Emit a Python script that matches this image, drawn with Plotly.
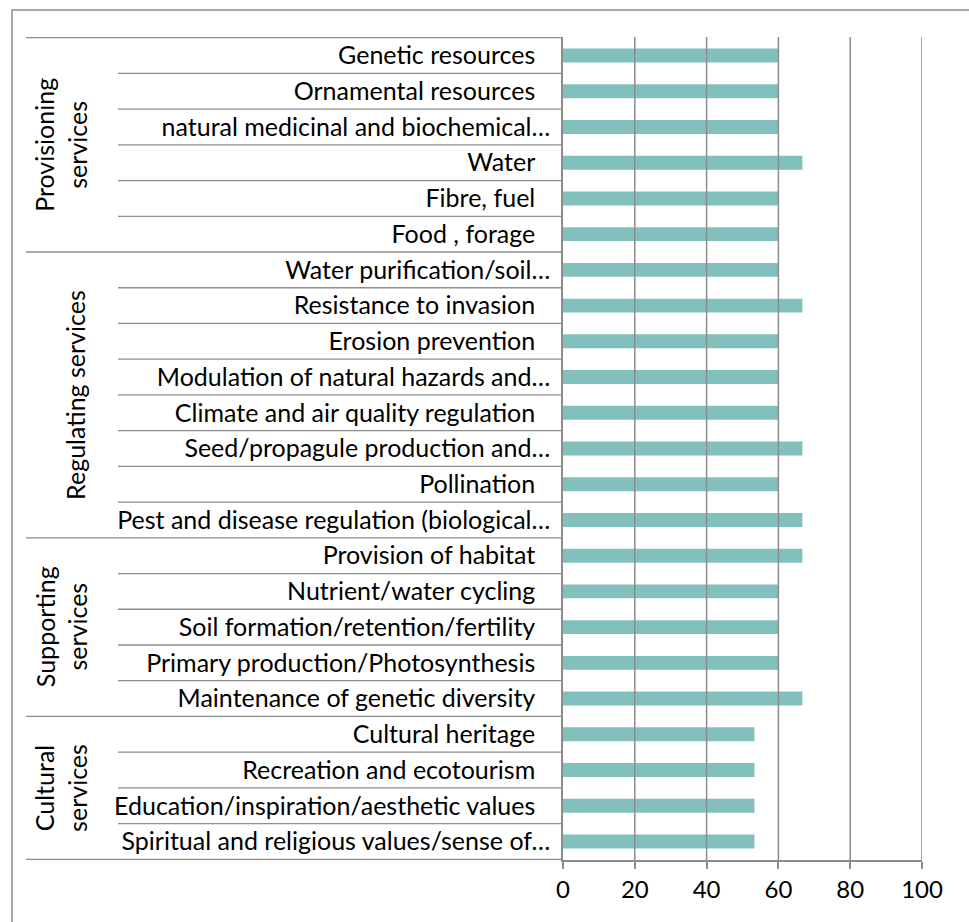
import plotly.graph_objects as go

groups = ["Provisioning<br>services", "Regulating services", "Supporting<br>services", "Cultural<br>services"]
group_sizes = [6, 8, 5, 4]
labels = [
    "Genetic resources", "Ornamental resources", "natural medicinal and biochemical…", "Water",
    "Fibre, fuel", "Food , forage",
    "Water purification/soil…", "Resistance to invasion", "Erosion prevention",
    "Modulation of natural hazards and…", "Climate and air quality regulation",
    "Seed/propagule production and…", "Pollination", "Pest and disease regulation (biological…",
    "Provision of habitat", "Nutrient/water cycling", "Soil formation/retention/fertility",
    "Primary production/Photosynthesis", "Maintenance of genetic diversity",
    "Cultural heritage", "Recreation and ecotourism", "Education/inspiration/aesthetic values",
    "Spiritual and religious values/sense of…",
]
values = [
    60, 60, 60, 66.67, 60, 60,
    60, 66.67, 60, 60, 60, 66.67, 60, 66.67,
    66.67, 60, 60, 60, 66.67,
    53.33, 53.33, 53.33, 53.33,
]
x_ticks = [0, 20, 40, 60, 80, 100]

W, H = 969, 922
L, R, T, B = 563, 47, 37, 62
pw = W - L - R
ph = H - T - B

def px_to_paper_x(px):
    return (px - L) / pw

def py_to_paper_y(py):
    return 1 - (py - T) / ph

FONT = "Lato"
FS = 25
GRID = "#8c8c8c"

pad = '<span style="font-size:20px">\u2003</span>'
tick_text = [t if t.endswith("…") else t + pad for t in labels]

fig = go.Figure(go.Bar(
    x=values, y=labels, orientation="h",
    marker=dict(color="#82C0BE", line=dict(width=0)),
    width=0.39,
    hoverinfo="x+y",
))

shapes = []
# gridlines drawn above bars
for t in x_ticks[1:]:
    shapes.append(dict(type="line", xref="x", yref="paper", x0=t, x1=t, y0=0, y1=1,
                       line=dict(color=GRID, width=1.5), layer="above"))

# row and group dividers in label area
n = len(labels)
boundaries = {-0.5}
acc = 0
for s in group_sizes:
    acc += s
    boundaries.add(acc - 0.5)
for i in range(n + 1):
    yb = i - 0.5
    x0 = px_to_paper_x(26) if yb in boundaries else px_to_paper_x(118)
    shapes.append(dict(type="line", xref="paper", yref="y", x0=x0, x1=0, y0=yb, y1=yb,
                       line=dict(color=GRID, width=1.3), layer="above"))

# outer border
shapes.append(dict(type="rect", xref="paper", yref="paper",
                   x0=px_to_paper_x(12), x1=px_to_paper_x(W + 20),
                   y0=py_to_paper_y(H + 20), y1=py_to_paper_y(10),
                   line=dict(color="#8c8c8c", width=1.5), fillcolor="rgba(0,0,0,0)", layer="below"))

annotations = []
start = 0
for g, s in zip(groups, group_sizes):
    mid = start + (s - 1) / 2
    xc = 61 if "<br>" in g else 75
    annotations.append(dict(text=g, xref="paper", yref="y", x=px_to_paper_x(xc), y=mid,
                            textangle=-90, showarrow=False, xanchor="center", yanchor="middle",
                            font=dict(family=FONT, size=FS, color="#000000")))
    start += s

fig.update_layout(
    width=W, height=H,
    margin=dict(l=L, r=R, t=T, b=B, autoexpand=False),
    paper_bgcolor="white", plot_bgcolor="white",
    showlegend=False,
    shapes=shapes, annotations=annotations,
    font=dict(family=FONT, size=FS, color="#000000"),
    xaxis=dict(range=[0, 100], tickvals=x_ticks, ticktext=[str(v) for v in x_ticks],
               showgrid=False, zeroline=False, showline=True, linecolor=GRID, linewidth=1.5,
               ticks="outside", ticklen=7, tickcolor=GRID, tickwidth=1.5,
               tickfont=dict(family=FONT, size=24, color="#000000"), fixedrange=True),
    yaxis=dict(type="category", categoryorder="array", categoryarray=labels,
               tickvals=labels, ticktext=tick_text,
               autorange="reversed",
               showgrid=False, zeroline=False, showline=True, linecolor=GRID, linewidth=1.5,
               ticks="", ticklabelstandoff=6, automargin=False,
               tickfont=dict(family=FONT, size=FS, color="#000000"), fixedrange=True),
)

fig.write_html("out.html")
